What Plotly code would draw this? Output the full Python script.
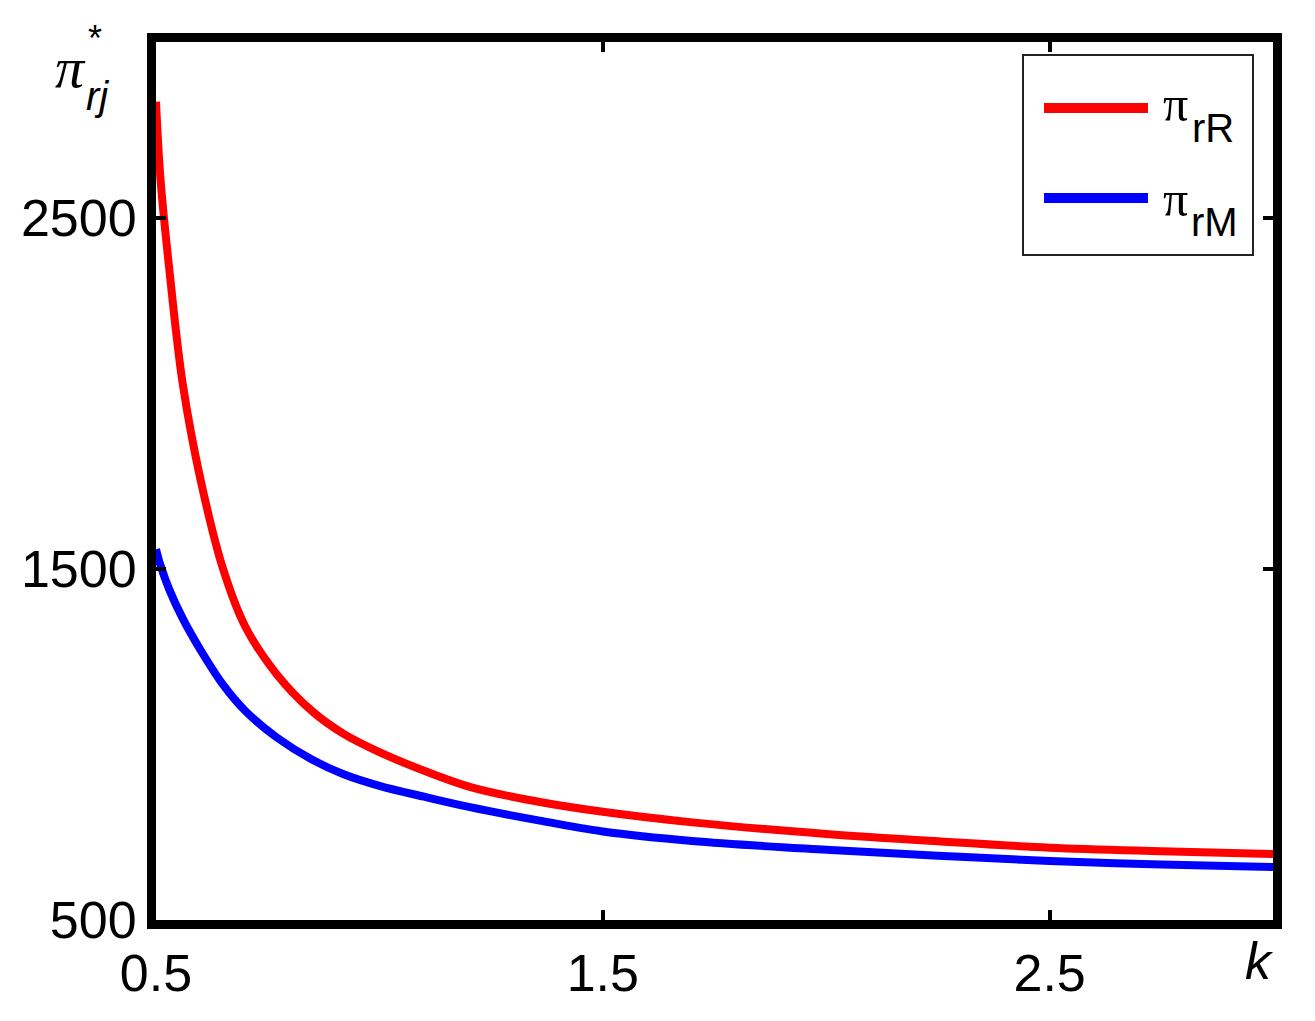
import plotly.graph_objects as go

# values
k_values = [0.50, 0.51, 0.53, 0.56, 0.60, 0.65, 0.70, 0.77, 0.85, 0.92, 1.00,
            1.10, 1.20, 1.35, 1.50, 1.70, 2.00, 2.25, 2.50, 2.75, 3.00]
pi_rR = [2830, 2610, 2350, 2025, 1752, 1500, 1335, 1200, 1094, 1030, 978,
         925, 880, 838, 808, 778, 745, 724, 706, 696, 688]
pi_rM = [1556, 1510, 1440, 1358, 1268, 1170, 1095, 1020, 956, 915, 882,
         851, 822, 785, 752, 725, 700, 683, 668, 658, 651]

x_ticks = [0.5, 1.5, 2.5]
y_ticks = [500, 1500, 2500]

# the page body has an 8px margin, so work in page pixels and shift
OFF = 8
W, H = 1315 - OFF, 1021 - OFF
L, R, T, B = 156 - OFF, 42, 42 - OFF, 101
plot_w = W - L - R
plot_h = H - T - B


def px(x):
    return (x - OFF - L) / plot_w


def py(y):
    return (H - B - (y - OFF)) / plot_h


fig = go.Figure()
fig.add_trace(go.Scatter(x=k_values, y=pi_rR, mode="lines", name="π_rR",
                         line=dict(color="#ff0000", width=8, shape="spline")))
fig.add_trace(go.Scatter(x=k_values, y=pi_rM, mode="lines", name="π_rM",
                         line=dict(color="#0000ff", width=8, shape="spline")))

axis_style = dict(
    showline=True, linecolor="black", linewidth=9, mirror="ticks",
    ticks="inside", ticklen=10, tickwidth=4, tickcolor="black",
    showgrid=False, zeroline=False,
    tickfont=dict(family="Liberation Sans", size=52, color="black"),
)
fig.update_xaxes(range=[0.5, 3.0], tickvals=x_ticks, ticktext=["0.5", "1.5", "2.5"], **axis_style)
fig.update_yaxes(range=[500, 3000], tickvals=y_ticks, ticktext=["500", "1500", "2500"], **axis_style)

# hand-made legend box (long line samples like the reference)
fig.add_shape(type="rect", xref="paper", yref="paper",
              x0=px(1023), x1=px(1253), y0=py(255), y1=py(55),
              line=dict(color="#222222", width=2), fillcolor="white", layer="above")
for color, yy in [("#ff0000", 108), ("#0000ff", 198)]:
    fig.add_shape(type="line", xref="paper", yref="paper",
                  x0=px(1044), x1=px(1148), y0=py(yy), y1=py(yy),
                  line=dict(color=color, width=10), layer="above")

texts = [
    ("π", 1175, 104, "Liberation Serif", 50, False),
    ("rR", 1213, 128, "Liberation Sans", 40, False),
    ("π", 1175, 199, "Liberation Serif", 50, False),
    ("rM", 1214, 222, "Liberation Sans", 40, False),
    ("π", 70, 68, "Liberation Serif", 58, True),
    ("rj", 97, 96, "Liberation Sans", 40, True),
    ("*", 95, 38, "Liberation Sans", 36, False),
    ("k", 1259, 961, "Liberation Sans", 52, True),
]
for txt, x, y, fam, size, italic in texts:
    fig.add_annotation(text=f"<i>{txt}</i>" if italic else txt,
                       xref="paper", yref="paper", x=px(x), y=py(y),
                       xanchor="center", yanchor="middle", showarrow=False,
                       font=dict(family=fam, size=size, color="black"))

fig.update_layout(
    width=W, height=H,
    margin=dict(l=L, r=R, t=T, b=B),
    paper_bgcolor="white", plot_bgcolor="white",
    showlegend=False,
)

fig.write_html("out.html")
